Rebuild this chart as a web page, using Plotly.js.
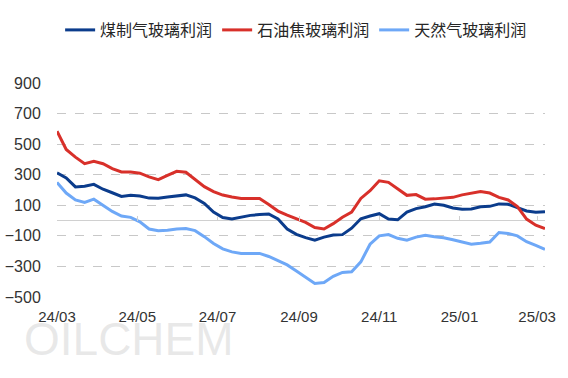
<!DOCTYPE html>
<html>
<head>
<meta charset="utf-8">
<script src="https://cdn.plot.ly/plotly-3.0.1.min.js"></script>
<style>html,body{margin:0;padding:0;background:#fff;}#chart{width:568px;height:378px;}</style>
</head>
<body>
<div id="chart"></div>
<script>
var dates = ["2024-03-01","2024-03-08","2024-03-15","2024-03-22","2024-03-29","2024-04-05","2024-04-12","2024-04-19","2024-04-26","2024-05-03","2024-05-10","2024-05-17","2024-05-24","2024-05-31","2024-06-07","2024-06-14","2024-06-21","2024-06-28","2024-07-05","2024-07-12","2024-07-19","2024-07-26","2024-08-02","2024-08-09","2024-08-16","2024-08-23","2024-08-30","2024-09-06","2024-09-13","2024-09-20","2024-09-27","2024-10-04","2024-10-11","2024-10-18","2024-10-25","2024-11-01","2024-11-08","2024-11-15","2024-11-22","2024-11-29","2024-12-06","2024-12-13","2024-12-20","2024-12-27","2025-01-03","2025-01-10","2025-01-17","2025-01-24","2025-01-31","2025-02-07","2025-02-14","2025-02-21","2025-02-28","2025-03-07"];

var seriesNames = ["煤制气玻璃利润", "石油焦玻璃利润", "天然气玻璃利润"];

var coalGas = [312,279,220,224,237,205,182,158,165,161,147,146,154,162,168,148,112,55,20,10,22,34,39,43,10,-55,-90,-112,-128,-108,-94,-92,-50,12,30,45,10,5,55,78,90,108,100,82,74,76,90,93,109,107,85,63,54,58];

var petCoke = [585,465,415,372,388,372,340,318,317,310,286,268,295,322,316,272,222,190,167,154,145,145,145,105,62,35,10,-12,-45,-55,-20,22,55,145,195,260,250,210,165,170,140,142,146,152,168,180,190,180,152,135,92,10,-30,-52];

var natGas = [250,180,135,118,140,102,60,30,21,-8,-55,-67,-64,-55,-52,-66,-105,-150,-185,-205,-215,-215,-215,-235,-260,-290,-330,-370,-412,-405,-365,-339,-335,-270,-155,-100,-92,-116,-128,-108,-96,-106,-112,-126,-141,-155,-149,-140,-78,-85,-100,-138,-162,-188];

var xTickVals = ["2024-03-01","2024-05-01","2024-07-01","2024-09-01","2024-11-01","2025-01-01","2025-03-01"];
var xTickText = ["24/03","24/05","24/07","24/09","24/11","25/01","25/03"];

var yTickVals = [-500,-300,-100,100,300,500,700,900];

var colors = ["#0b3c8c", "#d8302a", "#6ea8f7"];
var xRange = ["2024-03-01", "2025-03-07"];

var traces = [
  {x: dates, y: coalGas, name: seriesNames[0], type: "scatter", mode: "lines", line: {color: colors[0], width: 3}},
  {x: dates, y: petCoke, name: seriesNames[1], type: "scatter", mode: "lines", line: {color: colors[1], width: 3}},
  {x: dates, y: natGas, name: seriesNames[2], type: "scatter", mode: "lines", line: {color: colors[2], width: 3}}
];

var layout = {
  width: 568, height: 378,
  margin: {l: 57, r: 23, t: 83, b: 81},
  paper_bgcolor: "#ffffff", plot_bgcolor: "#ffffff",
  font: {family: "Liberation Sans, Arial, sans-serif", color: "#333333"},
  showlegend: true,
  legend: {
    orientation: "h", x: 0.49, xanchor: "center", xref: "paper",
    y: 1 - 30/378, yref: "container", yanchor: "middle",
    font: {family: "Noto Sans CJK SC, sans-serif", size: 16, color: "#262626"},
    itemwidth: 30, tracegroupgap: 0, itemclick: false
  },
  xaxis: {
    type: "date", range: xRange,
    tickvals: xTickVals, ticktext: xTickText,
    ticks: "outside", ticklen: 6, tickcolor: "rgba(0,0,0,0)",
    showgrid: false, showline: false, zeroline: false,
    tickfont: {size: 15, color: "#333333"}
  },
  xaxis2: {
    type: "date", range: xRange, overlaying: "x", anchor: "free", position: 500/1400,
    tickvals: xTickVals, ticks: "inside", ticklen: 5, tickcolor: "#d0d0d0", tickwidth: 1,
    showticklabels: false, showgrid: false, showline: false, zeroline: false
  },
  yaxis: {
    range: [-500, 900], tickvals: yTickVals,
    showgrid: true, gridcolor: "#c8c8c8", griddash: "dash", gridwidth: 1,
    zeroline: true, zerolinecolor: "#d0d0d0", zerolinewidth: 1.5,
    showline: false,
    ticks: "outside", ticklen: 12, tickcolor: "rgba(0,0,0,0)",
    tickfont: {size: 16, color: "#333333"}
  },
  annotations: [{
    text: "OILCHEM", xref: "paper", yref: "paper",
    x: (22-57)/488, y: (296.7-311)/213.7, xanchor: "left", yanchor: "top",
    showarrow: false,
    font: {family: "Liberation Sans, sans-serif", size: 46, color: "rgba(190,190,190,0.35)"}
  }]
};

traces.push({x: [xRange[0]], y: [null], xaxis: "x2", yaxis: "y", showlegend: false, hoverinfo: "skip", mode: "lines"});

Plotly.newPlot("chart", traces, layout, {displayModeBar: false, staticPlot: true});
</script>
</body>
</html>
